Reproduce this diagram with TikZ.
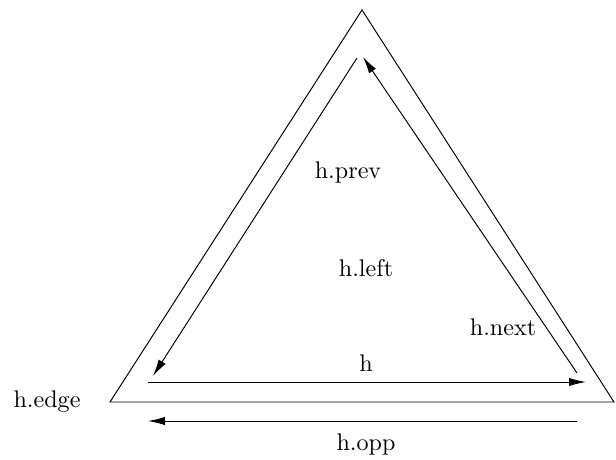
\documentclass[tikz,border=0pt]{standalone}
\usetikzlibrary{arrows.meta}
\begin{document}
\begin{tikzpicture}[x=0.415pt,y=-0.415pt,
  edgearrow/.style={-{Latex[length=7pt,width=3.4pt]}, line width=0.4pt},
  lbl/.style={inner sep=0pt, font=\normalsize}]
\useasboundingbox (0,0) rectangle (616,460);
% outer triangle
\coordinate (apex) at (362,10);
\coordinate (bl) at (110,402);
\coordinate (br) at (614,402);
\draw[line width=0.4pt] (bl) -- (apex) -- (br) -- cycle;
% half-edge coordinates
\coordinate (pS) at (357,58);
\coordinate (pE) at (153,376);
\coordinate (hS) at (148,382);
\coordinate (hE) at (586,382);
\coordinate (nS) at (577,373);
\coordinate (nE) at (363,57);
\coordinate (oS) at (577,421);
\coordinate (oE) at (148,421);
\draw[edgearrow] (pS) -- (pE);
\draw[edgearrow] (hS) -- (hE);
\draw[edgearrow] (nS) -- (nE);
\draw[edgearrow] (oS) -- (oE);
% labels
\node[lbl] (lprev) at (348,172) {h.prev};
\node[lbl] (lleft) at (366,268) {h.left};
\node[lbl] (lnext) at (503,327) {h.next};
\node[lbl] (lh) at (366,363) {h};
\node[lbl] (ledge) at (47,402) {h.edge};
\node[lbl] (lopp) at (366,444) {h.opp};
\end{tikzpicture}
\end{document}
